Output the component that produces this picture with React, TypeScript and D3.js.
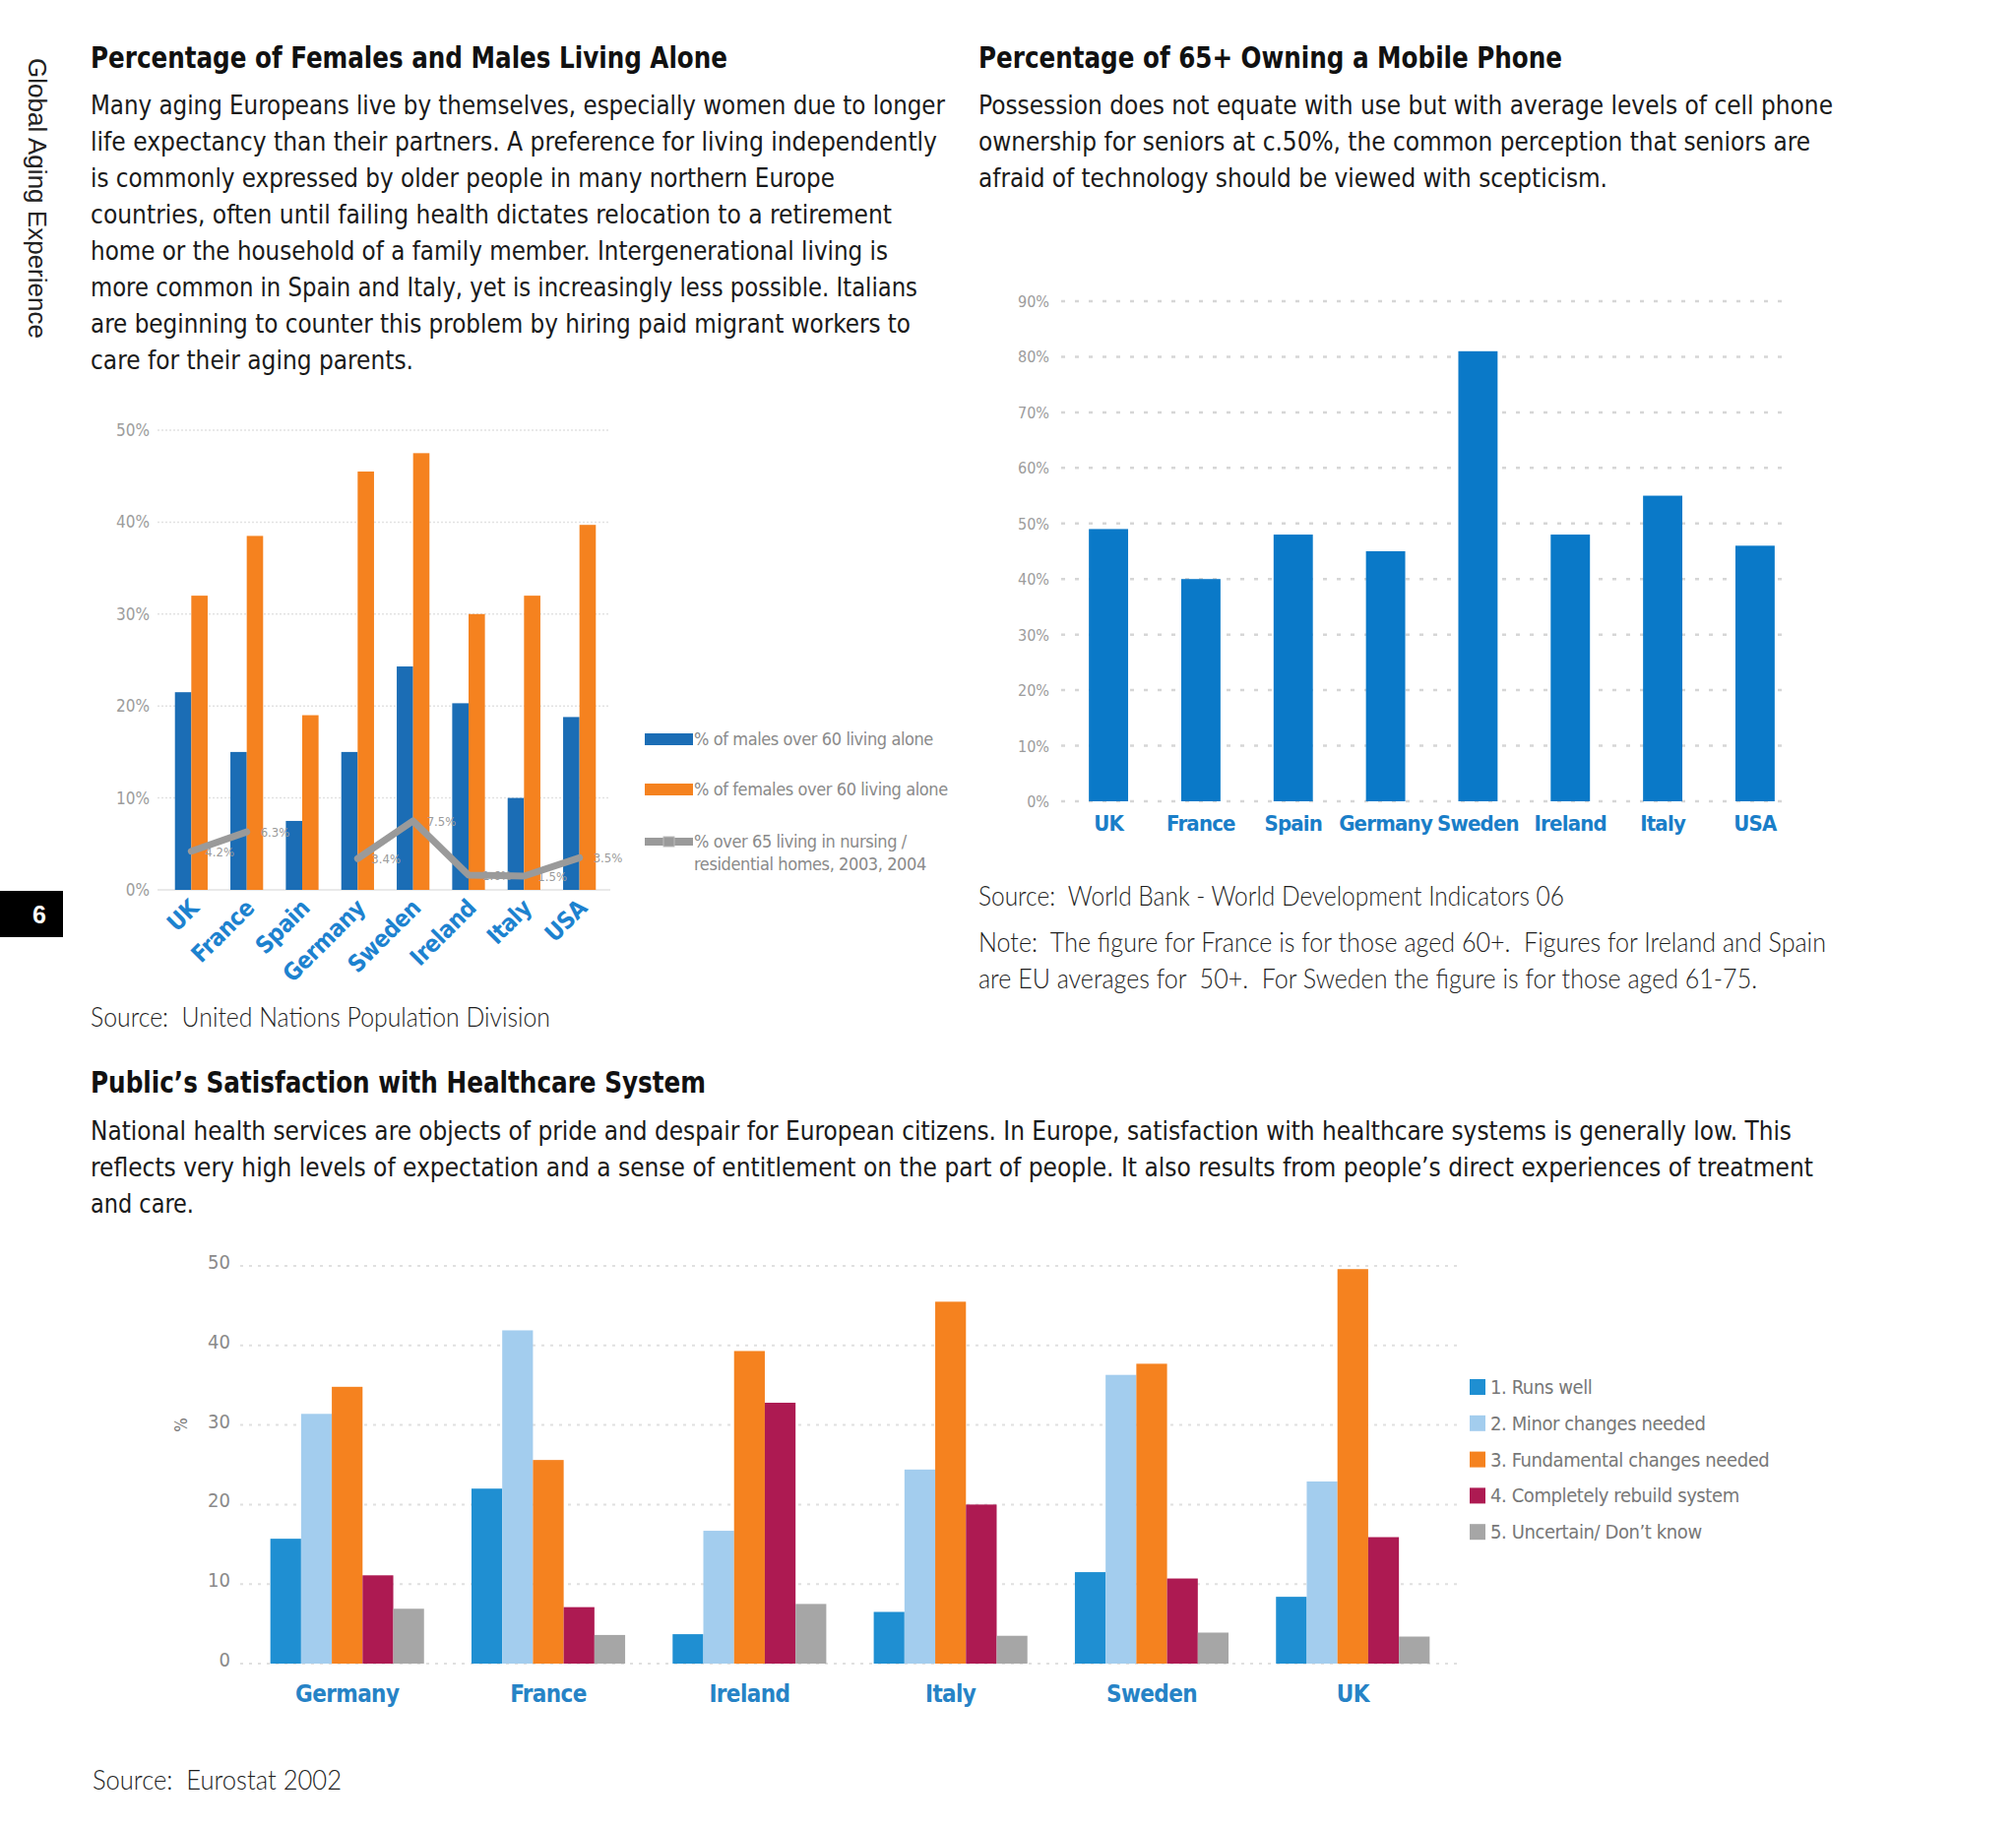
import React from 'react';
import * as d3 from 'd3';

const W = 2048;
const H = 1857;
const NARROW = "'Liberation Sans Narrow', 'DejaVu Sans Condensed', 'Roboto', sans-serif";
const SANS = "'Liberation Sans', 'DejaVu Sans', Arial, sans-serif";
const LIGHT = "'Lato', 'Open Sans', 'DejaVu Sans', sans-serif";

// ---- chart 1: living alone
const aloneCountries = ['UK', 'France', 'Spain', 'Germany', 'Sweden', 'Ireland', 'Italy', 'USA'];
const malesAlone = [21.5, 15, 7.5, 15, 24.3, 20.3, 10, 18.8];
const femalesAlone = [32, 38.5, 19, 45.5, 47.5, 30, 32, 39.7];
const nursingHomes: (number | null)[] = [4.2, 6.3, null, 3.4, 7.5, 1.6, 1.5, 3.5];
const aloneTicks = [0, 10, 20, 30, 40, 50];

// ---- chart 2: mobile phones
const phoneCountries = ['UK', 'France', 'Spain', 'Germany', 'Sweden', 'Ireland', 'Italy', 'USA'];
const phoneOwnership = [49, 40, 48, 45, 81, 48, 55, 46];
const phoneTicks = [0, 10, 20, 30, 40, 50, 60, 70, 80, 90];

// ---- chart 3: healthcare satisfaction
const careCountries = ['Germany', 'France', 'Ireland', 'Italy', 'Sweden', 'UK'];
const careSeries = [
  '1. Runs well',
  '2. Minor changes needed',
  '3. Fundamental changes needed',
  '4. Completely rebuild system',
  '5. Uncertain/ Don\u2019t know',
];
const runsWell = [15.7, 22, 3.7, 6.5, 11.5, 8.4];
const minorChanges = [31.4, 41.9, 16.7, 24.4, 36.3, 22.9];
const fundamentalChanges = [34.8, 25.6, 39.3, 45.5, 37.7, 49.6];
const rebuildSystem = [11.1, 7.1, 32.8, 20, 10.7, 15.9];
const dontKnow = [6.9, 3.6, 7.5, 3.5, 3.9, 3.4];
const careTicks = [0, 10, 20, 30, 40, 50];
const careColors = ['#1f8fd2', '#a3cdee', '#f5821f', '#ad1a52', '#a6a6a6'];

// ---- texts
const livingTitle = 'Percentage of Females and Males Living Alone';
const livingText = [
  'Many aging Europeans live by themselves, especially women due to longer',
  'life expectancy than their partners. A preference for living independently',
  'is commonly expressed by older people in many northern Europe',
  'countries, often until failing health dictates relocation to a retirement',
  'home or the household of a family member. Intergenerational living is',
  'more common in Spain and Italy, yet is increasingly less possible. Italians',
  'are beginning to counter this problem by hiring paid migrant workers to',
  'care for their aging parents.',
];
const phoneTitle = 'Percentage of 65+ Owning a Mobile Phone';
const phoneText = [
  'Possession does not equate with use but with average levels of cell phone',
  'ownership for seniors at c.50%, the common perception that seniors are',
  'afraid of technology should be viewed with scepticism.',
];
const careTitle = 'Public\u2019s Satisfaction with Healthcare System';
const careText = [
  'National health services are objects of pride and despair for European citizens. In Europe, satisfaction with healthcare systems is generally low. This',
  'reflects very high levels of expectation and a sense of entitlement on the part of people. It also results from people\u2019s direct experiences of treatment',
  'and care.',
];
const aloneSource = 'Source:  United Nations Population Division';
const phoneSource = 'Source:  World Bank - World Development Indicators 06';
const phoneNote = [
  'Note:  The figure for France is for those aged 60+.  Figures for Ireland and Spain',
  'are EU averages for  50+.  For Sweden the figure is for those aged 61-75.',
];
const careSource = 'Source:  Eurostat 2002';

// layout: right ends of text lines (for fitting the narrow face)
const livingEnds = [960, 952, 848, 906, 902, 932, 925, 420];
const phoneEnds = [1862, 1839, 1633];
const careEnds = [1820, 1842, 197];

const Line: React.FC<{
  x: number; y: number; end?: number; size: number; weight?: number | string;
  fill?: string; family?: string; children: React.ReactNode;
}> = ({ x, y, end, size, weight = 400, fill = '#1a1a1a', family = NARROW, children }) => (
  <text
    x={x}
    y={y}
    fontFamily={family}
    fontSize={size}
    fontWeight={weight}
    fill={fill}
    style={{ whiteSpace: 'pre' }}
    {...(end ? { textLength: end - x, lengthAdjust: 'spacingAndGlyphs' } : {})}
  >
    {children}
  </text>
);

export default function App() {
  // chart 1 scales
  const x1 = d3.scaleBand<string>().domain(aloneCountries).range([158, 625]).paddingInner(0.41).paddingOuter(0.35);
  const x1in = d3.scaleBand<string>().domain(['m', 'f']).range([0, x1.bandwidth()]);
  const y1 = d3.scaleLinear().domain([0, 50]).range([904, 437]);
  const cx1 = (c: string) => (x1(c) ?? 0) + x1.bandwidth() / 2;
  const nursingPath = d3
    .line<number | null>()
    .defined((d) => d != null)
    .x((_, i) => cx1(aloneCountries[i]))
    .y((d) => y1(d as number))(nursingHomes);

  // chart 2 scales
  const x2 = d3.scaleBand<string>().domain(phoneCountries).range([1078, 1831]).paddingInner(0.575).paddingOuter(0.3);
  const y2 = d3.scaleLinear().domain([0, 90]).range([814, 306]);

  // chart 3 scales
  const x3 = d3.scaleBand<string>().domain(careCountries).range([244, 1483]).paddingInner(0.236).paddingOuter(0.15);
  const x3in = d3.scaleBand<string>().domain(careSeries).range([0, x3.bandwidth()]);
  const y3 = d3.scaleLinear().domain([0, 50]).range([1690, 1286]);
  const careValues = [runsWell, minorChanges, fundamentalChanges, rebuildSystem, dontKnow];

  return (
    <svg
      width={W}
      height={H}
      viewBox={`0 0 ${W} ${H}`}
      style={{ position: 'absolute', left: 0, top: 0, display: 'block', background: '#fff' }}
    >
      <rect width={W} height={H} fill="#fff" />

      {/* side label and page number */}
      <text
        transform="translate(29,59) rotate(90)"
        fontFamily={SANS}
        fontSize={25}
        fill="#222"
        textLength={285}
        lengthAdjust="spacingAndGlyphs"
      >
        Global Aging Experience
      </text>
      <rect x={0} y={905} width={64} height={47} fill="#000" />
      <text x={40} y={938} textAnchor="middle" fontFamily={SANS} fontSize={25} fontWeight={700} fill="#fff">
        6
      </text>

      {/* ---------- section 1 text ---------- */}
      <Line x={92} y={69} end={739} size={31} weight={700} fill="#111">{livingTitle}</Line>
      {livingText.map((t, i) => (
        <Line key={i} x={92} y={115.5 + i * 37} end={livingEnds[i]} size={27}>{t}</Line>
      ))}

      {/* ---------- chart 1 ---------- */}
      <g>
        {aloneTicks.map((t) => (
          <g key={t}>
            <line x1={160} x2={620} y1={y1(t)} y2={y1(t)} stroke="#e2e2e2" strokeWidth={1.5} strokeDasharray={t === 0 ? undefined : '2 2'} />
            <text x={152} y={y1(t) + 6} textAnchor="end" fontFamily={NARROW} fontSize={17} fill="#9c9c9c">
              {t}%
            </text>
          </g>
        ))}
        {aloneCountries.map((c, i) => (
          <g key={c}>
            <rect x={(x1(c) ?? 0) + (x1in('m') ?? 0)} y={y1(malesAlone[i])} width={x1in.bandwidth()} height={y1(0) - y1(malesAlone[i])} fill="#1b6db5" />
            <rect x={(x1(c) ?? 0) + (x1in('f') ?? 0)} y={y1(femalesAlone[i])} width={x1in.bandwidth()} height={y1(0) - y1(femalesAlone[i])} fill="#f5821f" />
          </g>
        ))}
        <path d={nursingPath ?? ''} fill="none" stroke="#9a9a9a" strokeWidth={7} strokeLinejoin="round" strokeLinecap="round" />
        {aloneCountries.map((c, i) =>
          nursingHomes[i] == null ? null : (
            <text key={c} x={cx1(c) + 14} y={y1(nursingHomes[i] as number) + 5} fontFamily={NARROW} fontSize={13} fill="#9a9a9a">
              {nursingHomes[i]}%
            </text>
          )
        )}
        {aloneCountries.map((c) => (
          <text
            key={c}
            transform={`translate(${cx1(c) + 9},${y1(0) + 20}) rotate(-45)`}
            textAnchor="end"
            fontFamily={NARROW}
            fontSize={24}
            fontWeight={700}
            letterSpacing={-0.5}
            fill="#1d82cf"
          >
            {c}
          </text>
        ))}
        {/* legend */}
        <rect x={655} y={745} width={49} height={12} fill="#1b6db5" />
        <text x={705} y={757} fontFamily={NARROW} fontSize={18} letterSpacing={-0.4} fill="#8a8a8a">% of males over 60 living alone</text>
        <rect x={655} y={796} width={49} height={12} fill="#f5821f" />
        <text x={705} y={808} fontFamily={NARROW} fontSize={18} letterSpacing={-0.4} fill="#8a8a8a">% of females over 60 living alone</text>
        <line x1={655} x2={704} y1={855} y2={855} stroke="#9a9a9a" strokeWidth={8} />
        <rect x={674} y={850} width={11} height={10} fill="#9a9a9a" stroke="#bbb" />
        <text x={705} y={861} fontFamily={NARROW} fontSize={18} letterSpacing={-0.4} fill="#8a8a8a">% over 65 living in nursing /</text>
        <text x={705} y={884} fontFamily={NARROW} fontSize={18} letterSpacing={-0.4} fill="#8a8a8a">residential homes, 2003, 2004</text>
      </g>
      <Line x={92} y={1043} end={559} size={27} fill="#1e1e1e" weight={300} family={LIGHT}>{aloneSource}</Line>

      {/* ---------- section 2 text ---------- */}
      <Line x={994} y={69} end={1587} size={31} weight={700} fill="#111">{phoneTitle}</Line>
      {phoneText.map((t, i) => (
        <Line key={i} x={994} y={115.5 + i * 37} end={phoneEnds[i]} size={27}>{t}</Line>
      ))}

      {/* ---------- chart 2 ---------- */}
      <g>
        {phoneTicks.map((t) => (
          <g key={t}>
            <line x1={1078} x2={1818} y1={y2(t)} y2={y2(t)} stroke="#d6d6d6" strokeWidth={2.5} strokeDasharray="4 10" />
            <text x={1066} y={y2(t) + 6} textAnchor="end" fontFamily={NARROW} fontSize={16} fill="#9c9c9c">
              {t}%
            </text>
          </g>
        ))}
        {phoneCountries.map((c, i) => (
          <rect key={c} x={x2(c)} y={y2(phoneOwnership[i])} width={x2.bandwidth()} height={y2(0) - y2(phoneOwnership[i])} fill="#0a79c8" />
        ))}
        {phoneCountries.map((c) => (
          <text key={c} x={(x2(c) ?? 0) + x2.bandwidth() / 2} y={844} textAnchor="middle" fontFamily={NARROW} fontSize={22} fontWeight={700} letterSpacing={-0.8} fill="#1a7ec8">
            {c}
          </text>
        ))}
      </g>
      <Line x={994} y={920} end={1589} size={27} fill="#1e1e1e" weight={300} family={LIGHT}>{phoneSource}</Line>
      {phoneNote.map((t, i) => (
        <Line key={i} x={994} y={967 + i * 37} end={i === 0 ? 1855 : 1785} size={27} fill="#1e1e1e" weight={300} family={LIGHT}>{t}</Line>
      ))}

      {/* ---------- section 3 text ---------- */}
      <Line x={92} y={1110} end={717} size={31} weight={700} fill="#111">{careTitle}</Line>
      {careText.map((t, i) => (
        <Line key={i} x={92} y={1158 + i * 37} end={careEnds[i]} size={27}>{t}</Line>
      ))}

      {/* ---------- chart 3 ---------- */}
      <g>
        {careTicks.map((t) => (
          <g key={t}>
            <line x1={244} x2={1481} y1={y3(t)} y2={y3(t)} stroke="#e0e0e0" strokeWidth={2} strokeDasharray="3 6" />
            <text x={234} y={y3(t) + 3} textAnchor="end" fontFamily={NARROW} fontSize={20} fill="#8a8a8a">
              {t}
            </text>
          </g>
        ))}
        <text transform={`translate(190,${y3(30)}) rotate(-90)`} textAnchor="middle" fontFamily={NARROW} fontSize={17} fill="#777">
          %
        </text>
        {careCountries.map((c, i) => (
          <g key={c} transform={`translate(${x3(c)},0)`}>
            {careSeries.map((s, j) => (
              <rect key={s} x={x3in(s)} y={y3(careValues[j][i])} width={x3in.bandwidth()} height={y3(0) - y3(careValues[j][i])} fill={careColors[j]} />
            ))}
          </g>
        ))}
        {careCountries.map((c) => (
          <text key={c} x={(x3(c) ?? 0) + x3.bandwidth() / 2} y={1729} textAnchor="middle" fontFamily={NARROW} fontSize={24} fontWeight={700} letterSpacing={-0.6} fill="#2683c6">
            {c}
          </text>
        ))}
        {careSeries.map((s, j) => (
          <g key={s} transform={`translate(1493,${1401 + j * 36.8})`}>
            <rect x={0} y={0} width={16} height={16} fill={careColors[j]} />
            <text x={21} y={15} fontFamily={NARROW} fontSize={20} letterSpacing={-0.4} fill="#777">
              {s}
            </text>
          </g>
        ))}
      </g>
      <Line x={94} y={1818} end={347} size={27} fill="#1e1e1e" weight={300} family={LIGHT}>{careSource}</Line>
    </svg>
  );
}
